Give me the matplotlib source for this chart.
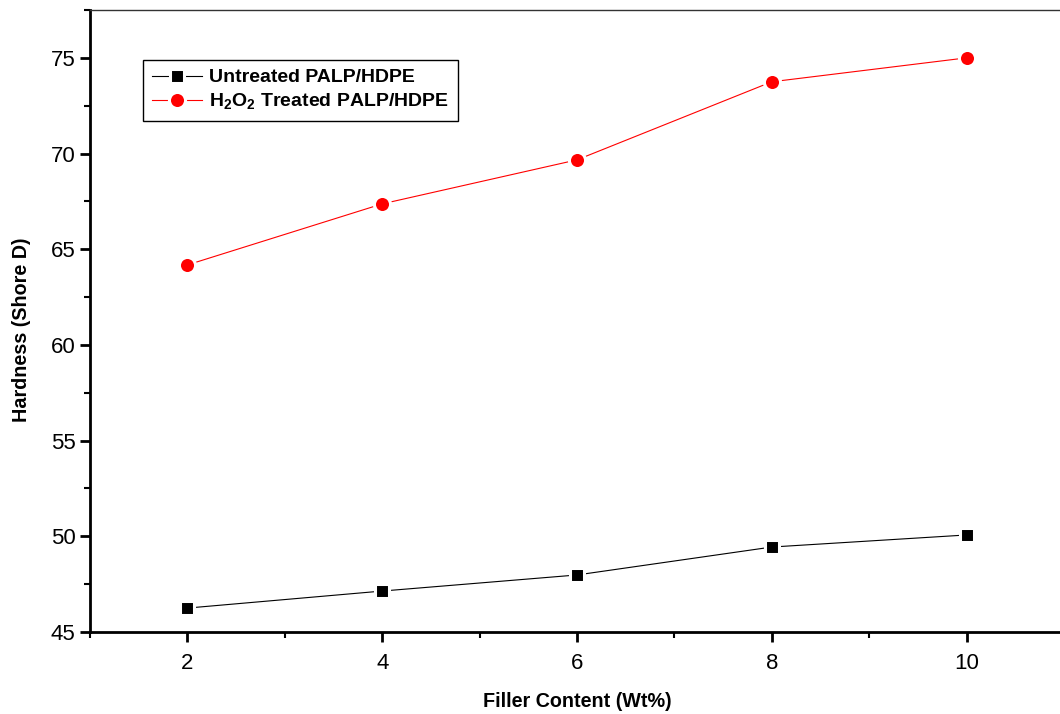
import matplotlib
matplotlib.use('Agg')
import matplotlib.pyplot as plt
from matplotlib.ticker import MultipleLocator

plt.rcParams['font.family'] = ['Liberation Sans', 'DejaVu Sans']
plt.rcParams['mathtext.fontset'] = 'custom'
plt.rcParams['mathtext.bf'] = 'Liberation Sans:bold'
plt.rcParams['mathtext.rm'] = 'Liberation Sans:bold'

filler = [2, 4, 6, 8, 10]
untreated = [46.25, 47.14, 47.98, 49.44, 50.07]
treated = [64.18, 67.37, 69.67, 73.75, 75.0]

fig = plt.figure(figsize=(10.6, 7.14), dpi=100)
# axes runs off the right edge, as in the cropped original
ax = fig.add_axes([90 / 1060, 1 - 632 / 714, 974 / 1060, 622 / 714])

# white marker edge gives the small gap between line and symbol
ax.plot(filler, untreated, '-', color='black', linewidth=0.8, marker='s',
        markersize=10.1, markerfacecolor='black', markeredgecolor='white',
        markeredgewidth=2.2, label='Untreated PALP/HDPE')
ax.plot(filler, treated, '-', color='red', linewidth=0.8, marker='o',
        markersize=11.6, markerfacecolor='red', markeredgecolor='white',
        markeredgewidth=2.2, label=r'H$_\mathbf{2}$O$_\mathbf{2}$ Treated PALP/HDPE')

ax.set_xlim(1, 11)
ax.set_ylim(45, 77.5)
ax.xaxis.set_major_locator(MultipleLocator(2))
ax.xaxis.set_minor_locator(MultipleLocator(1))
ax.yaxis.set_major_locator(MultipleLocator(5))
ax.yaxis.set_minor_locator(MultipleLocator(2.5))

ax.spines['left'].set_linewidth(2)
ax.spines['bottom'].set_linewidth(2)
ax.spines['top'].set_linewidth(1)
ax.spines['top'].set_color('#333333')
ax.spines['right'].set_visible(False)
ax.tick_params(which='major', direction='out', length=7, width=2,
               labelsize=16, top=False, right=False)
ax.tick_params(which='minor', direction='out', length=4, width=1.5,
               top=False, right=False)
ax.tick_params(axis='x', which='major', pad=8)

ax.set_xlabel('Filler Content (Wt%)', fontsize=14.2, fontweight='bold')
ax.set_ylabel('Hardness (Shore D)', fontsize=14.2, fontweight='bold')
ax.xaxis.set_label_coords(0.5, -(692 - 632) / 622)
ax.yaxis.set_label_coords(-(90 - 31) / 974, (632 - 330) / 622)

leg = ax.legend(loc='upper left', bbox_to_anchor=(53 / 974, 1 - 50 / 622),
                fancybox=False, edgecolor='black', framealpha=1,
                prop={'weight': 'bold', 'size': 14}, handlelength=2.6,
                handletextpad=0.35, borderpad=0.45, labelspacing=0.3,
                borderaxespad=0)
leg.get_frame().set_linewidth(1)

fig.savefig('out.png', dpi=100)
